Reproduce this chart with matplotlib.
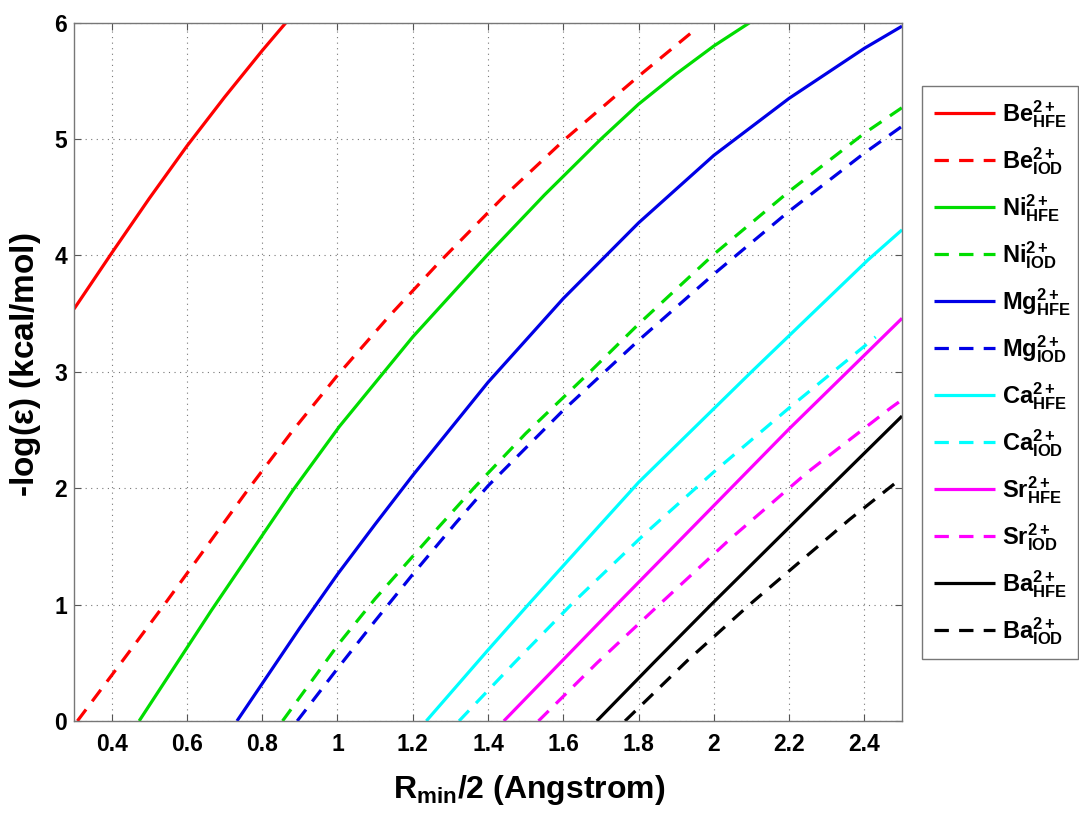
import matplotlib
matplotlib.use("Agg")
import matplotlib.pyplot as plt

plt.rcParams['font.family'] = ['Liberation Sans', 'DejaVu Sans']
plt.rcParams['font.weight'] = 'bold'
plt.rcParams['mathtext.fontset'] = 'custom'
plt.rcParams['mathtext.rm'] = 'Liberation Sans:bold'
plt.rcParams['mathtext.bf'] = 'Liberation Sans:bold'
plt.rcParams['mathtext.it'] = 'Liberation Sans:bold'
plt.rcParams['mathtext.default'] = 'bf'

# R_min/2 (Angstrom) vs -log(eps) for each ion, HFE and IOD fits
be_hfe_x = [0.3, 0.4, 0.5, 0.6, 0.7, 0.8, 0.863]
be_hfe_y = [3.54, 4.02, 4.49, 4.94, 5.36, 5.76, 6.0]
be_iod_x = [0.309, 0.425, 0.54, 0.765, 0.88, 1.0, 1.135, 1.27, 1.44, 1.605, 1.80, 1.95]
be_iod_y = [0.0, 0.5, 1.0, 2.0, 2.49, 2.97, 3.47, 3.94, 4.5, 5.0, 5.54, 5.94]

ni_hfe_x = [0.473, 0.665, 0.881, 1.005, 1.2, 1.397, 1.55, 1.70, 1.80, 1.9, 2.0, 2.095]
ni_hfe_y = [0.0, 0.95, 1.98, 2.53, 3.30, 4.0, 4.52, 5.0, 5.30, 5.56, 5.80, 6.0]
ni_iod_x = [0.854, 1.005, 1.1, 1.27, 1.362, 1.5, 1.671, 1.8, 2.0, 2.2, 2.4, 2.5]
ni_iod_y = [0.0, 0.67, 1.05, 1.67, 2.0, 2.47, 3.0, 3.41, 4.01, 4.55, 5.05, 5.27]

mg_hfe_x = [0.733, 0.9, 1.0, 1.1, 1.2, 1.4, 1.6, 1.8, 2.0, 2.2, 2.4, 2.5]
mg_hfe_y = [0.0, 0.80, 1.26, 1.69, 2.11, 2.91, 3.63, 4.28, 4.86, 5.35, 5.78, 5.97]
mg_iod_x = [0.893, 1.0, 1.1, 1.2, 1.314, 1.4, 1.6, 1.8, 2.0, 2.2, 2.4, 2.5]
mg_iod_y = [0.0, 0.45, 0.86, 1.26, 1.70, 2.02, 2.67, 3.27, 3.84, 4.38, 4.88, 5.11]

ca_hfe_x = [1.236, 1.4, 1.507, 1.702, 1.80, 2.1, 2.409, 2.5]
ca_hfe_y = [0.0, 0.61, 1.0, 1.70, 2.05, 3.0, 3.96, 4.22]
ca_iod_x = [1.323, 1.47, 1.627, 1.817, 2.0, 2.2, 2.43]
ca_iod_y = [0.0, 0.5, 1.02, 1.61, 2.14, 2.69, 3.30]

sr_hfe_x = [1.442, 1.742, 1.93, 2.2, 2.5]
sr_hfe_y = [0.0, 1.0, 1.62, 2.51, 3.46]
sr_iod_x = [1.534, 1.69, 1.855, 2.042, 2.25, 2.47, 2.5]
sr_iod_y = [0.0, 0.5, 1.0, 1.56, 2.14, 2.69, 2.76]

ba_hfe_x = [1.689, 1.84, 1.993, 2.227, 2.5]
ba_hfe_y = [0.0, 0.5, 1.0, 1.75, 2.62]
ba_iod_x = [1.764, 1.93, 2.095, 2.36, 2.5]
ba_iod_y = [0.0, 0.52, 1.0, 1.73, 2.09]

ions = ['Be', 'Ni', 'Mg', 'Ca', 'Sr', 'Ba']
colors = ['#ff0000', '#00dd00', '#0000e6', '#00ffff', '#ff00ff', '#000000']
series = [
    (be_hfe_x, be_hfe_y, be_iod_x, be_iod_y),
    (ni_hfe_x, ni_hfe_y, ni_iod_x, ni_iod_y),
    (mg_hfe_x, mg_hfe_y, mg_iod_x, mg_iod_y),
    (ca_hfe_x, ca_hfe_y, ca_iod_x, ca_iod_y),
    (sr_hfe_x, sr_hfe_y, sr_iod_x, sr_iod_y),
    (ba_hfe_x, ba_hfe_y, ba_iod_x, ba_iod_y),
]

x_ticks = [0.4, 0.6, 0.8, 1.0, 1.2, 1.4, 1.6, 1.8, 2.0, 2.2, 2.4]
x_tick_labels = ['0.4', '0.6', '0.8', '1', '1.2', '1.4', '1.6', '1.8', '2', '2.2', '2.4']
y_ticks = [0, 1, 2, 3, 4, 5, 6]

fig = plt.figure(figsize=(10.79, 8.13), dpi=100)
ax = fig.add_axes([0.0686, 0.1132, 0.7674, 0.8589])

lw = 2.3
dash = (0, (4.5, 3.2))
for ion, c, (hx, hy, ix, iy) in zip(ions, colors, series):
    ax.plot(hx, hy, color=c, lw=lw, solid_capstyle='butt',
            solid_joinstyle='round', label=r'$%s^{2+}_{HFE}$' % ion)
    ax.plot(ix, iy, color=c, lw=lw, linestyle=dash, dash_capstyle='butt',
            label=r'$%s^{2+}_{IOD}$' % ion)

ax.set_xlim(0.3, 2.5)
ax.set_ylim(0, 6)
ax.set_xticks(x_ticks)
ax.set_xticklabels(x_tick_labels)
ax.set_yticks(y_ticks)
ax.tick_params(direction='in', length=5, width=0.8, labelsize=16.5,
               top=True, right=True, color='#555555')
ax.tick_params(axis='x', pad=9)
ax.tick_params(axis='y', pad=5)
for lab in ax.get_xticklabels() + ax.get_yticklabels():
    lab.set_fontweight('bold')
ax.grid(True, linestyle=(0, (1, 4)), color='#777777', linewidth=0.8)
for sp in ax.spines.values():
    sp.set_color('#777777')
    sp.set_linewidth(1.0)

ax.set_xlabel(r'$R_{min}$/2 (Angstrom)', fontsize=23, fontweight='bold')
ax.xaxis.set_label_coords(0.55, -0.075)
ax.set_ylabel(r'-log($\epsilon$) (kcal/mol)', fontsize=24, fontweight='bold')
ax.yaxis.set_label_coords(-0.038, 0.51)

leg = fig.legend(loc='upper left', bbox_to_anchor=(0.8545, 0.1919, 0.1446, 0.7023),
                 mode='expand', fontsize=17, handlelength=2.6, handletextpad=0.3,
                 labelspacing=0.65, borderaxespad=0, borderpad=0.5,
                 fancybox=False, framealpha=1, edgecolor='#777777')
leg.get_frame().set_linewidth(1.0)

fig.savefig('out.png', dpi=100)
